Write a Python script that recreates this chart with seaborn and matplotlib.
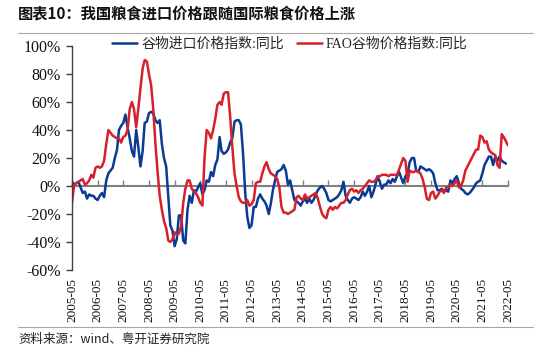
import pandas as pd
import matplotlib
matplotlib.use("Agg")
import matplotlib.pyplot as plt
import matplotlib.dates as mdates
from matplotlib.lines import Line2D
from matplotlib.ticker import FuncFormatter
import seaborn as sns

# monthly data starting 2005-05, year-on-year %
START = "2005-05-01"

import_yoy = [
    3, 1, 2, 3, -1, -5, -4, -9, -6, -7, -7, -9,
    -10, -7, -5, -8, 4, 9, 11, 13, 20, 26, 40, 43,
    45, 51, 42, 34, 25, 21, 40, 28, 14, 25, 45, 46,
    52, 53, 52, 47, 45, 47, 30, 20, 14, -8, -28, -32,
    -43, -38, -21, -21, -39, -41, -17, -7, -12, -3, -4, -1,
    2, -6, -3, 4, 3, 10, 7, 15, 19, 35, 25, 23,
    24, 26, 31, 34, 46, 47, 47, 44, 23, -5, -22, -30,
    -28, -15, -15, -9, -6, -9, -11, -14, -20, -12, -3, 4,
    10, 11, 12, 15, 11, 1, 4, -3, -10, -11, -12, -14,
    -11, -9, -12, -9, -12, -10, -6, -3, -1, 0, -2, -5,
    -10, -11, -10, -9, -8, -6, -3, 3, -7, -10, -12, -9,
    -8, -9, -10, -8, -4, -7, -4, 0, -8, -4, 1, 7,
    3, -2, 1, 1, 4, 2, 5, 3, 7, 10, 6, 2,
    7, 9, 17, 20, 20, 11, 10, 14, 13, 12, 11, 12,
    11, 9, 2, -3, -3, -2, -4, -3, -4, 4, 2, 5,
    7, 2, -2, -3, -5, -6, -5, -3, -1, 2, 3, 4,
    9, 15, 18, 21, 21, 15, 21, 18, 21, 18, 17, 16,
]

fao_yoy = [
    -12, 1, 2, 3, 4, 5, 1, 2, 4, 8, 6, 13,
    14, 13, 14, 18, 30, 40, 38, 36, 35, 34, 34, 31,
    35, 36, 40, 55, 60, 55, 42, 55, 70, 84, 90, 89,
    80, 72, 55, 30, 10, -7, -17, -25, -30, -39, -40, -38,
    -33, -35, -34, -29, -12, -2, 4, 4, -2, -4, -5, -8,
    -12, -14, 20, 40, 38, 34, 40, 48, 58, 60, 58, 66,
    67, 67, 50, 28, 9, 0, -8, -11, -12, -12, -10, -14,
    -13, -10, 2, 3, 3, 9, 14, 17, 12, 9, 8, 7,
    5, -1, -15, -19, -19, -20, -19, -18, -17, -8, -7, -9,
    -10, -6, -9, -8, -7, -6, -5, -9, -15, -20, -22, -23,
    -17, -15, -17, -15, -16, -14, -12, -12, -10, -6, -3, -2,
    -4, -3, -5, -3, -2, 0, 2, 4, 3, 3, 4, 7,
    7, 8, 8, 8, 7, 8, 8, 8, 8, 12, 16, 20,
    18, 3, 11, 10, 10, 11, 10, 9, 5, -1, -9, -10,
    -5, -4, -9, -7, -4, -3, -5, -1, -1, 1, 0, 2,
    4, -1, 0, 4, 11, 14, 17, 20, 23, 26, 26, 36,
    35, 31, 32, 26, 24, 23, 22, 15, 13, 37, 35, 32,
    29,
]

series_names = ["谷物进口价格指数:同比", "FAO谷物价格指数:同比"]
series_colors = ["#0a3a94", "#d6202b"]
tick_years = list(range(2005, 2023))
y_ticks = [-60, -40, -20, 0, 20, 40, 60, 80, 100]

frames = []
for name, vals in zip(series_names, [import_yoy, fao_yoy]):
    frames.append(pd.DataFrame({
        "date": pd.date_range(START, periods=len(vals), freq="MS"),
        "value": vals,
        "series": name,
    }))
df = pd.concat(frames, ignore_index=True)

sns.set_theme(style="white")
plt.rcParams["font.family"] = ["Liberation Serif", "Noto Sans CJK SC", "DejaVu Sans"]

W, H = 550, 355
fig = plt.figure(figsize=(W / 100, H / 100), dpi=100)
ax = fig.add_axes([72 / W, 1 - 270 / H, 436 / W, 224 / H])

sns.lineplot(
    data=df, x="date", y="value", hue="series",
    palette=dict(zip(series_names, series_colors)),
    linewidth=1.8, ax=ax,
)

tick_dates = mdates.date2num([pd.Timestamp(f"{y}-05-01") for y in tick_years])
ax.set_xlim(tick_dates[0], tick_dates[-1])
ax.set_ylim(y_ticks[0], y_ticks[-1])
ax.set_xticks(tick_dates)
ax.set_xticklabels([f"{y}-05" for y in tick_years])
ax.set_yticks(y_ticks)
ax.yaxis.set_major_formatter(FuncFormatter(lambda v, p: f"{v:.0f}%"))
ax.set_xlabel("")
ax.set_ylabel("")

for s in ["top", "right", "bottom"]:
    ax.spines[s].set_visible(False)
ax.spines["left"].set_color("#404040")
ax.spines["left"].set_linewidth(1.0)
ax.tick_params(axis="y", direction="out", length=4, width=1, color="#404040",
               labelsize=11.5, pad=4, left=True, labelcolor="#111111")
ax.tick_params(axis="x", length=0, labelsize=9.5, rotation=90, pad=6,
               labelcolor="#111111")

# zero axis with upward ticks
zero_pos = (0 - y_ticks[0]) / (y_ticks[-1] - y_ticks[0])
sec = ax.secondary_xaxis(zero_pos)
sec.set_xticks(tick_dates)
sec.tick_params(axis="x", direction="in", length=4, width=1, color="#808080",
                labelbottom=False, bottom=True)
sec.spines["bottom"].set_color("#808080")
sec.spines["bottom"].set_linewidth(1.5)

handles, labels = ax.get_legend_handles_labels()
ax.legend(
    handles, labels, ncol=2, frameon=False, loc="center",
    bbox_to_anchor=(0.5, 1.01), fontsize=10,
    handlelength=1.8, handletextpad=0.3, columnspacing=0.9,
)

fig.text(18 / W, 1 - 13 / H, "图表10：我国粮食进口价格跟随国际粮食价格上涨",
         fontsize=11, fontweight="bold", family=["Noto Sans CJK SC"],
         va="center", ha="left", color="#111111")
fig.text(18 / W, 1 - 339 / H, "资料来源：wind、粤开证券研究院",
         fontsize=9, family=["Noto Sans CJK SC"], style="italic",
         va="center", ha="left", color="#222222")
for yy in [33, 327]:
    fig.add_artist(Line2D([18 / W, 533 / W], [1 - yy / H, 1 - yy / H],
                          transform=fig.transFigure, color="#a6a6a6", lw=0.8))

fig.savefig("out.png", dpi=100)
